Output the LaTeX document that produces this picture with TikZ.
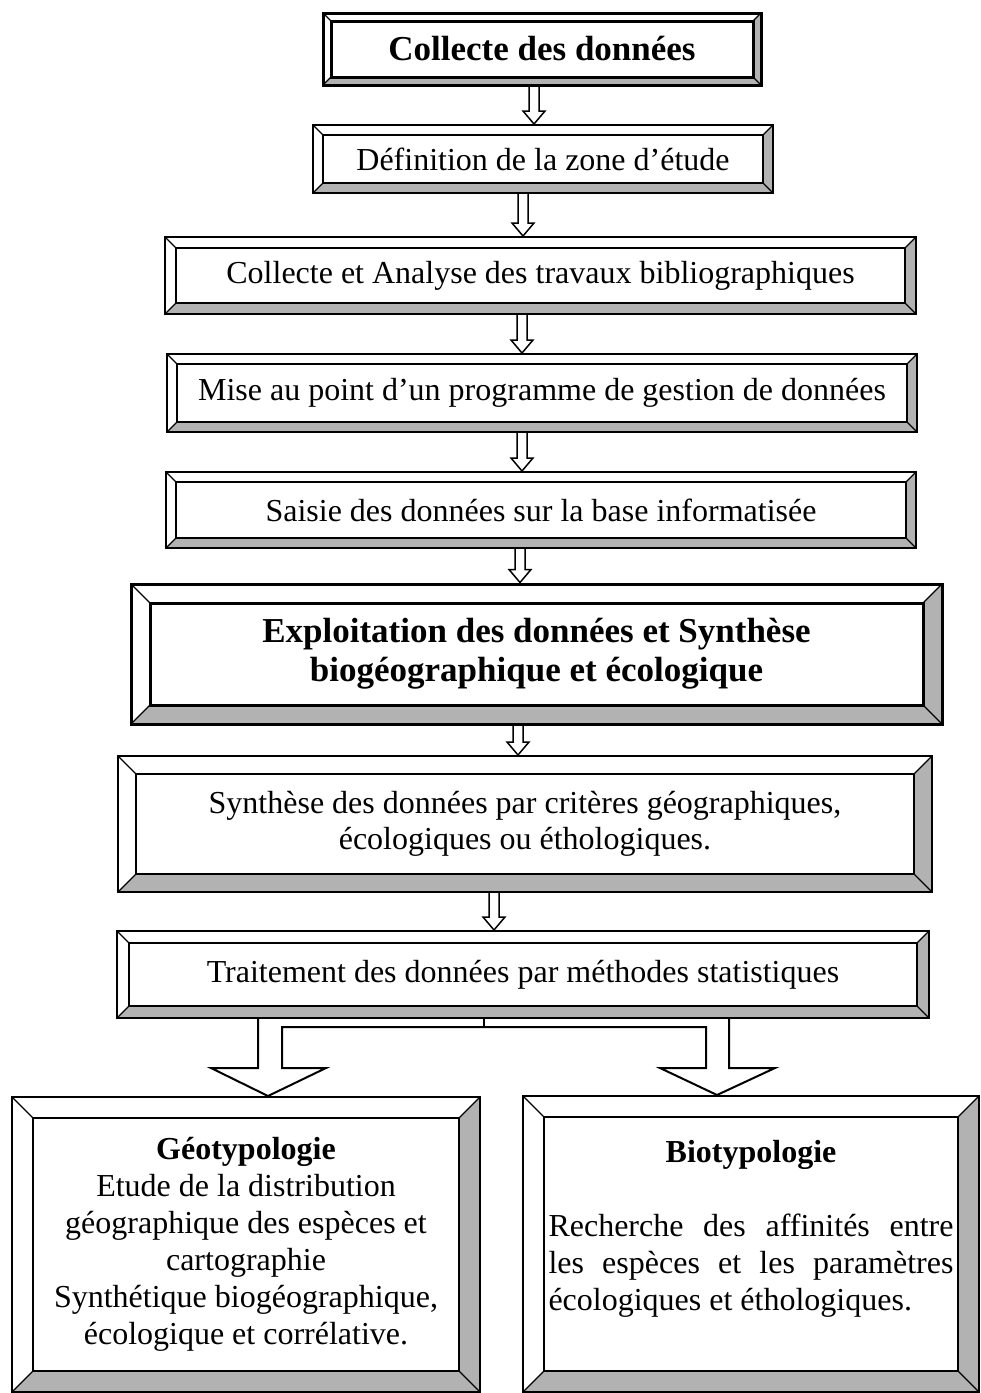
\documentclass[tikz,border=0pt]{standalone}
\usepackage{fontspec}
\setmainfont{Liberation Serif}
\usetikzlibrary{calc}

\colorlet{bevelfill}{black!30}

\tikzset{
  % framed box with a bevel: right and bottom sides shaded
  bevelbox/.style={draw, line width=2pt, inner sep=0pt, align=center,
    path picture={
      \path (path picture bounding box.north west) coordinate (o1)
            (path picture bounding box.north east) coordinate (o2)
            (path picture bounding box.south east) coordinate (o3)
            (path picture bounding box.south west) coordinate (o4);
      \path ([shift={(#1pt,-#1pt)}]o1) coordinate (i1)
            ([shift={(-#1pt,-#1pt)}]o2) coordinate (i2)
            ([shift={(-#1pt,#1pt)}]o3) coordinate (i3)
            ([shift={(#1pt,#1pt)}]o4) coordinate (i4);
      \fill[bevelfill] (o2) -- (i2) -- (i3) -- (i4) -- (o4) -- (o3) -- cycle;
      \draw (i1) rectangle (i3);
      \draw[line width=1.2pt] (o1) -- (i1) (o2) -- (i2) (o3) -- (i3) (o4) -- (i4);
    }},
  steptext/.style={font=\fontsize{32}{37}\selectfont},
  headtext/.style={font=\fontsize{35}{39}\selectfont\bfseries},
  hollowarrow/.style={line width=1.5pt, line join=miter},
}

\begin{document}
\begin{tikzpicture}[x=1pt, y=-1pt]
  \useasboundingbox (0,0) rectangle (981,1393);

  % title box
  \node[bevelbox=8, line width=3pt, headtext, minimum width=438pt, minimum height=72pt]
    (b1) at (542,49) {Collecte des données};

  % collecting steps
  \node[bevelbox=10, steptext, minimum width=460pt, minimum height=68pt]
    (b2) at (543,159) {Définition de la zone d’étude};
  \node[bevelbox=11, steptext, minimum width=751pt, minimum height=77pt]
    (b3) at (540.5,275.5) {Collecte et Analyse des travaux bibliographiques};
  \node[bevelbox=10, steptext, minimum width=750pt, minimum height=78pt]
    (b4) at (542,393) {Mise au point d’un programme de gestion de données};
  \node[bevelbox=10, steptext, minimum width=750pt, minimum height=76pt]
    (b5) at (541,510) {Saisie des données sur la base informatisée};

  % second part
  \node[bevelbox=19, line width=3pt, headtext, minimum width=811pt, minimum height=140pt]
    (b6) at (536.5,654) {Exploitation des données et Synthèse\\biogéographique et écologique};
  \node[bevelbox=18, font=\fontsize{32}{36}\selectfont, minimum width=814pt, minimum height=136pt]
    (b7) at (525,824) {Synthèse des données par critères géographiques,\\écologiques ou éthologiques.};
  \node[bevelbox=12, steptext, minimum width=812pt, minimum height=87pt]
    (b8) at (523,974.5) {Traitement des données par méthodes statistiques};

  % two results
  \node[bevelbox=21, steptext, minimum width=468pt, minimum height=295pt]
    (geo) at (246,1244.5) {\textbf{Géotypologie}\\Etude de la distribution\\géographique des espèces et\\cartographie\\Synthétique biogéographique,\\écologique et corrélative.};
  \node[bevelbox=21, steptext, minimum width=456pt, minimum height=296pt, text width=405pt, align=justify]
    (bio) at (751,1244) {\noindent\hspace*{\fill}\textbf{Biotypologie}\hspace*{\fill}\\[37pt]Recherche des affinités entre\linebreak les espèces et les paramètres\linebreak écologiques et éthologiques.\\\mbox{}};

  % small hollow arrows between steps
  \foreach \a/\b/\x in {b1/b2/534, b2/b3/523, b3/b4/522, b4/b5/522, b5/b6/520, b6/b7/518, b7/b8/494}
    \draw[hollowarrow] ($(\x,0 |- \a.south)+(-5,0)$) -- ($(\x,0 |- \b.north)+(-5,-13)$)
      -- ($(\x,0 |- \b.north)+(-11,-13)$) -- (\x,0 |- \b.north)
      -- ($(\x,0 |- \b.north)+(11,-13)$) -- ($(\x,0 |- \b.north)+(5,-13)$)
      -- ($(\x,0 |- \a.south)+(5,0)$);

  % split arrow to the two results
  \draw[hollowarrow, line width=2pt] (258,0 |- b8.south) -- (258,1068) -- (211,1068)
    -- (268,0 |- geo.north) -- (326,1068) -- (282,1068) -- (282,1027) -- (706,1027)
    -- (706,1068) -- (660,1068) -- (717,0 |- bio.north) -- (775,1068) -- (729,1068)
    -- (729,0 |- b8.south);
  \draw[hollowarrow, line width=2pt] (484,0 |- b8.south) -- (484,1027);
\end{tikzpicture}
\end{document}
